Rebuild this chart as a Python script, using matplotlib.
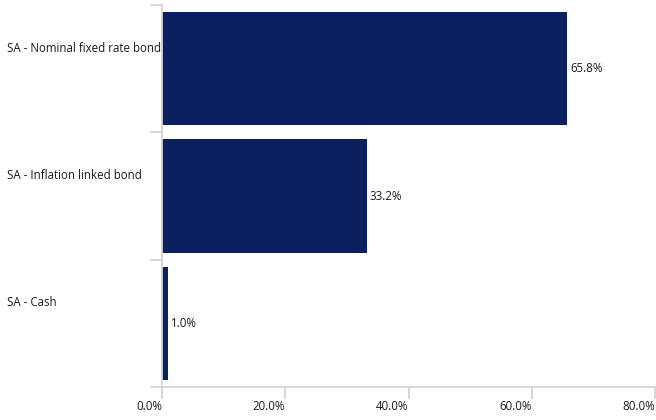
import matplotlib
matplotlib.use("Agg")
import matplotlib.pyplot as plt
import matplotlib.transforms as mtransforms

# data
categories = ["SA - Nominal fixed rate bond", "SA - Inflation linked bond", "SA - Cash"]
values = [65.8, 33.2, 1.0]
xticks = [0, 20, 40, 60, 80]
xtick_labels = ["0.0%", "20.0%", "40.0%", "60.0%", "80.0%"]

plt.rcParams['font.family'] = ['Open Sans', 'DejaVu Sans']
bar_color = '#0c1f5e'
grid_color = '#d4d4d4'
text_color = '#1a1a1a'

fig = plt.figure(figsize=(6.56, 4.2), dpi=100)
ax = fig.add_axes([162 / 656, 1 - 387 / 420, 493 / 656, 382 / 420])

n = len(categories)
pos = list(range(n))
ax.barh(pos, values, height=0.89, color=bar_color)
ax.set_ylim(n - 0.5, -0.5)
ax.set_xlim(0, 80)

for spine in ['top', 'right']:
    ax.spines[spine].set_visible(False)
for spine in ['left', 'bottom']:
    ax.spines[spine].set_color(grid_color)
    ax.spines[spine].set_linewidth(1.3)

# y ticks mark the band boundaries
ax.set_yticks([p - 0.5 for p in pos] + [n - 0.5])
ax.set_yticklabels([])
ax.tick_params(axis='y', length=8.6, width=1.3, color=grid_color)

ax.set_xticks(xticks)
ax.set_xticklabels(xtick_labels)
ax.tick_params(axis='x', length=8.6, width=1.3, color=grid_color,
               labelsize=8.3, labelcolor=text_color, pad=1)
for lbl in ax.get_xticklabels():
    lbl.set_horizontalalignment('right')

# category names sit left-aligned near the top of each band
trans = mtransforms.blended_transform_factory(fig.transFigure, ax.transData)
for p, name in zip(pos, categories):
    ax.text(7 / 656, p - 0.16, name, transform=trans, ha='left', va='center',
            fontsize=8.3, color=text_color)

for p, v in zip(pos, values):
    ax.annotate(f"{v:.1f}%", xy=(v, p), xytext=(2, 0), textcoords='offset points',
                ha='left', va='center', fontsize=8.3, color=text_color)

fig.savefig("out.png", dpi=100)
